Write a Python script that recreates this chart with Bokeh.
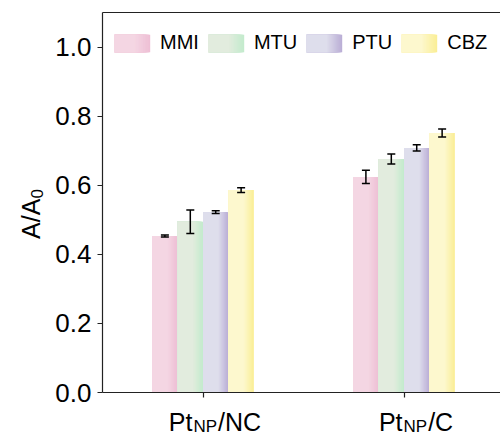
import numpy as np
from bokeh.plotting import figure
from bokeh.models import (ColumnDataSource, FixedTicker, PrintfTickFormatter, Legend,
                          LegendItem, Whisker, TeeHead, LinearAxis)
from bokeh.core.properties import value
from bokeh.embed import file_html
from bokeh.resources import INLINE

# ---------------- data ----------------
group_main = ["Pt", "Pt"]
group_sub = ["NP", "NP"]
group_rest = ["/NC", "/C"]
series = ["MMI", "MTU", "PTU", "CBZ"]
mmi = [0.453, 0.624]
mtu = [0.494, 0.676]
ptu = [0.522, 0.708]
cbz = [0.586, 0.751]
mmi_err = [0.003, 0.019]
mtu_err = [0.034, 0.0145]
ptu_err = [0.004, 0.009]
cbz_err = [0.007, 0.0116]
y_ticks = [0.0, 0.2, 0.4, 0.6, 0.8, 1.0]

values = [mmi, mtu, ptu, cbz]
errors = [mmi_err, mtu_err, ptu_err, cbz_err]
light_colors = ["#F4D6E3", "#E2ECDE", "#DEDEEC", "#FDF8CE"]
dark_colors = ["#EEBFD5", "#C3EBCD", "#BBAED6", "#FAEE96"]

FONT = "Liberation Sans"
X0, X1 = 0.5, 2.48
Y0, Y1 = 0.0, 1.1

p = figure(width=500, height=435, x_range=(X0, X1), y_range=(Y0, Y1),
           output_backend="svg", toolbar_location=None,
           min_border_left=102, min_border_right=0, min_border_top=12, min_border_bottom=43)
p.outline_line_color = None
p.border_fill_color = "white"
p.grid.visible = False
p.background_fill_color = "white"

group_x = np.arange(1, len(mmi) + 1, dtype=float)
bar_w = 0.1264


def hex2rgb(h):
    h = h.lstrip("#")
    return np.array([int(h[i:i + 2], 16) for i in (0, 2, 4)], dtype=float)


def mix(c1, c2, t):
    a, b = hex2rgb(c1), hex2rgb(c2)
    c = a + (b - a) * t
    return "#%02x%02x%02x" % tuple(int(round(v)) for v in c)


# gradient layers: integer legend swatch widths, same fractions for bars
swatch_w = 43
layer_widths = list(range(swatch_w, 25, -1))
for k, lw in enumerate(layer_widths):
    f = lw / swatch_w
    t = (lw - 26) / (swatch_w - 26)  # 1 -> dark, 0 -> light
    items = []
    for i, s in enumerate(series):
        left = group_x + (i - 1.5) * bar_w - bar_w / 2
        src = ColumnDataSource(dict(x=left + f * bar_w / 2, top=values[i]))
        r = p.vbar(x="x", top="top", bottom=0, width=f * bar_w, source=src,
                   fill_color=mix(light_colors[i], dark_colors[i], t), line_color=None)
        items.append(LegendItem(label=s, renderers=[r]))
    leg = Legend(items=items, orientation="horizontal", location=(9, 338),
                 glyph_width=lw, glyph_height=22, label_height=22,
                 label_standoff=6 + (swatch_w - lw), spacing=6, padding=0, margin=0,
                 border_line_color=None, background_fill_alpha=0,
                 label_text_font=FONT, label_text_font_size="20px",
                 label_text_color="black",
                 label_text_alpha=1.0 if k == len(layer_widths) - 1 else 0.0)
    p.add_layout(leg)

# error bars
for i, s in enumerate(series):
    xc = group_x + (i - 1.5) * bar_w
    v = np.array(values[i])
    e = np.array(errors[i])
    esrc = ColumnDataSource(dict(x=xc, upper=v + e, lower=v - e))
    p.add_layout(Whisker(base="x", upper="upper", lower="lower", source=esrc,
                         dimension="height", line_color="black", line_width=1.5,
                         upper_head=TeeHead(size=8, line_color="black", line_width=1.5),
                         lower_head=TeeHead(size=8, line_color="black", line_width=1.5),
                         level="annotation"))

# axes
bottom_axis = p.below[0]
left_axis = p.left[0]
top_axis = LinearAxis(ticker=FixedTicker(ticks=[], minor_ticks=[]))
p.add_layout(top_axis, "above")
for ax in (bottom_axis, left_axis, top_axis):
    ax.axis_line_color = "#222222"
    ax.axis_line_width = 1.2
    ax.major_tick_line_color = "#222222"
    ax.major_tick_line_width = 1.2
    ax.major_tick_in = 0
    ax.major_tick_out = 5
    ax.minor_tick_line_color = None
top_axis.major_tick_line_color = None

left_axis.ticker = FixedTicker(ticks=y_ticks, minor_ticks=[])
left_axis.formatter = PrintfTickFormatter(format="%.1f")
left_axis.major_label_text_font = FONT
left_axis.major_label_text_font_size = "26px"
left_axis.major_label_text_color = "black"
left_axis.major_label_standoff = 6

bottom_axis.ticker = FixedTicker(ticks=list(group_x), minor_ticks=[])
bottom_axis.major_label_overrides = {1: "", 2: ""}

# x category labels with subscripts
adv = {'P': 667, 't': 278, 'N': 722, 'C': 722, '/': 278, 'A': 667, '0': 556}


def tw(s, size):
    return sum(adv[c] for c in s) * size / 1000.0


MAIN, SUB = 25, 17
GAP = 1.0
off_main, off_sub, off_rest = [], [], []
for a, b, c in zip(group_main, group_sub, group_rest):
    W = tw(a, MAIN) + tw(b, SUB) + tw(c, MAIN) + 2 * GAP
    left = 12 - W / 2
    off_main.append(left)
    off_sub.append(left + tw(a, MAIN) + GAP)
    off_rest.append(left + tw(a, MAIN) + tw(b, SUB) + 2 * GAP)

ybase = [Y0] * len(group_x)
for txt, offs, size, dy in ((group_main, off_main, MAIN, 29.0),
                            (group_sub, off_sub, SUB, 34.0),
                            (group_rest, off_rest, MAIN, 29.0)):
    src = ColumnDataSource(dict(x=group_x, y=ybase, text=txt, xo=offs))
    p.text(x="x", y="y", text="text", x_offset="xo", y_offset=dy, source=src,
           text_font=value(FONT), text_font_size=f"{size}px", text_color="black",
           text_align="left", text_baseline="alphabetic", level="overlay")

# y axis label A/A0 (rotated)
ymid = (Y0 + Y1) / 2
ylab_main = "A/A"
ylab_sub = "0"
total = tw(ylab_main, MAIN) + tw(ylab_sub, SUB)
start = 11.5 + total / 2
ysrc = ColumnDataSource(dict(x=[X0, X0], y=[ymid, ymid], text=[ylab_main, ylab_sub],
                             xo=[-72.0, -65.5], yo=[start, start - tw(ylab_main, MAIN)],
                             fs=[f"{MAIN}px", f"{SUB}px"]))
p.text(x="x", y="y", text="text", x_offset="xo", y_offset="yo", source=ysrc,
       angle=np.pi / 2, text_font=value(FONT), text_font_size="fs", text_color="black",
       text_align="left", text_baseline="alphabetic", level="overlay")

open("out.html", "w").write(file_html(p, INLINE))
